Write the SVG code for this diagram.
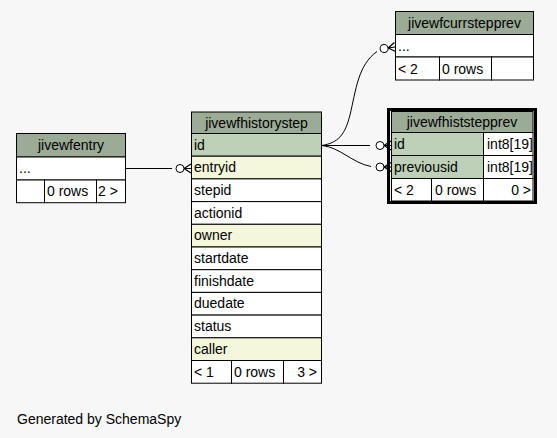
<svg xmlns="http://www.w3.org/2000/svg" width="557" height="438" viewBox="0 0 557 438">
<style>
text{font-family:"Liberation Sans",Arial,sans-serif;font-size:14px;fill:#000}
.hd{fill:#9bab96;stroke:#000;stroke-width:1}
.pk{fill:#bed1b8;stroke:#000;stroke-width:1}
.ix{fill:#f4f7da;stroke:#000;stroke-width:1}
.c{fill:#fff;stroke:#000;stroke-width:1}
.ln{fill:none;stroke:#000;stroke-width:1}
.mid{text-anchor:middle}
.end{text-anchor:end}
</style>
<defs>
<g id="crowodot">
<circle cx="-11" cy="0" r="4" fill="#fff" stroke="#000" stroke-width="1"/>
<path d="M-7,0 L0,-4.5 M-7,0 L0,0 M-7,0 L0,4.5" fill="none" stroke="#000" stroke-width="1.2"/>
</g>
</defs>
<rect width="557" height="438" fill="#f7f7f7"/>

<g id="connectors">
<path class="ln" d="M125.5,168.5 L172,168.5"/>
<use href="#crowodot" x="191" y="168.5"/>
<path class="ln" d="M321.5,145.5 L370,145.5"/>
<use href="#crowodot" x="391" y="145.5"/>
<path class="ln" d="M321.5,145.5 C340,147 352,163 371,166.5"/>
<use href="#crowodot" x="391" y="167"/>
<path class="ln" d="M321.5,145.5 C338,143 345,135 350,115 C356,90 358,65 377,51.5"/>
<g transform="translate(395,47) rotate(-8)"><use href="#crowodot"/></g>
</g>

<g id="jivewfcurrstepprev">
<rect class="hd" x="395.5" y="11.5" width="138" height="23"/>
<rect class="c" x="395.5" y="34.5" width="138" height="22.5"/>
<rect class="c" x="395.5" y="57" width="44" height="23"/>
<rect class="c" x="439.5" y="57" width="52" height="23"/>
<rect class="c" x="491.5" y="57" width="42" height="23"/>
<text class="mid" x="464.5" y="28">jivewfcurrstepprev</text>
<text x="398" y="50.5">...</text>
<text x="398" y="74">&lt; 2</text>
<text x="442" y="74">0 rows</text>
</g>

<g id="jivewfhiststepprev">
<rect x="388.5" y="109.5" width="147" height="93" fill="none" stroke="#000" stroke-width="3"/>
<rect class="hd" x="391.5" y="111.5" width="141.5" height="21"/>
<rect class="pk" x="391.5" y="132.5" width="92" height="23"/>
<rect class="c" x="483.5" y="132.5" width="49.5" height="23"/>
<rect class="pk" x="391.5" y="155.5" width="92" height="23"/>
<rect class="c" x="483.5" y="155.5" width="49.5" height="23"/>
<rect class="c" x="391.5" y="178.5" width="40" height="22.5"/>
<rect class="c" x="431.5" y="178.5" width="52" height="22.5"/>
<rect class="c" x="483.5" y="178.5" width="49.5" height="22.5"/>
<text class="mid" x="462" y="127">jivewfhiststepprev</text>
<text x="394" y="149">id</text>
<text x="487" y="149">int8[19]</text>
<text x="394" y="172">previousid</text>
<text x="487" y="172">int8[19]</text>
<text x="394" y="195">&lt; 2</text>
<text x="435" y="195">0 rows</text>
<text class="end" x="531" y="195">0 &gt;</text>
</g>

<g id="jivewfhistorystep">
<rect class="hd" x="191.5" y="112" width="130" height="21.5"/>
<rect class="pk" x="191.5" y="133.5" width="130" height="22.7"/>
<rect class="ix" x="191.5" y="156.2" width="130" height="22.7"/>
<rect class="c" x="191.5" y="178.9" width="130" height="22.7"/>
<rect class="c" x="191.5" y="201.6" width="130" height="22.7"/>
<rect class="ix" x="191.5" y="224.3" width="130" height="22.7"/>
<rect class="c" x="191.5" y="247" width="130" height="22.7"/>
<rect class="c" x="191.5" y="269.7" width="130" height="22.7"/>
<rect class="c" x="191.5" y="292.4" width="130" height="22.7"/>
<rect class="c" x="191.5" y="315.1" width="130" height="22.7"/>
<rect class="ix" x="191.5" y="337.8" width="130" height="22.7"/>
<rect class="c" x="191.5" y="360.5" width="40" height="22.7"/>
<rect class="c" x="231.5" y="360.5" width="52" height="22.7"/>
<rect class="c" x="283.5" y="360.5" width="38" height="22.7"/>
<text class="mid" x="256.5" y="128">jivewfhistorystep</text>
<text x="194" y="149.5">id</text>
<text x="194" y="172.2">entryid</text>
<text x="194" y="194.9">stepid</text>
<text x="194" y="217.6">actionid</text>
<text x="194" y="240.3">owner</text>
<text x="194" y="263">startdate</text>
<text x="194" y="285.7">finishdate</text>
<text x="194" y="308.4">duedate</text>
<text x="194" y="331.1">status</text>
<text x="194" y="353.8">caller</text>
<text x="194" y="376.5">&lt; 1</text>
<text x="234" y="376.5">0 rows</text>
<text class="end" x="317" y="376.5">3 &gt;</text>
</g>

<g id="jivewfentry">
<rect class="hd" x="16.5" y="133.5" width="109" height="23.5"/>
<rect class="c" x="16.5" y="157" width="109" height="23"/>
<rect class="c" x="16.5" y="180" width="28" height="22.7"/>
<rect class="c" x="44.5" y="180" width="52" height="22.7"/>
<rect class="c" x="96.5" y="180" width="29" height="22.7"/>
<text class="mid" x="71" y="150">jivewfentry</text>
<text x="19" y="173">...</text>
<text x="47" y="196">0 rows</text>
<text x="98" y="196">2 &gt;</text>
</g>

<text x="17" y="424">Generated by SchemaSpy</text>
</svg>
